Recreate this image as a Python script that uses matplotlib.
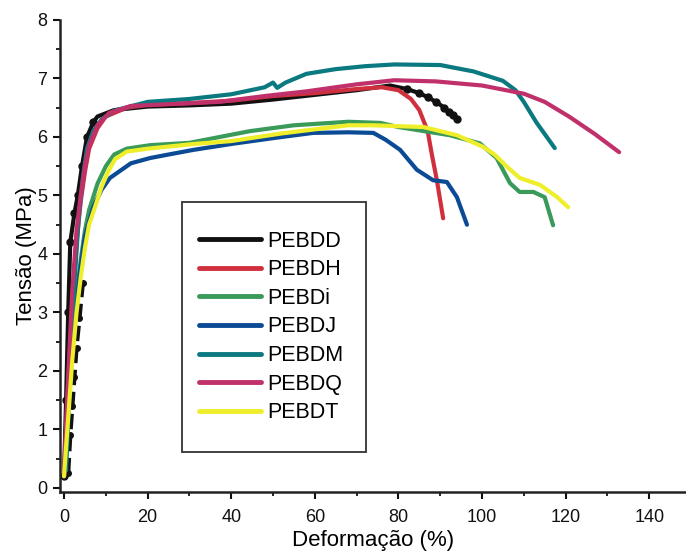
import numpy as np
import matplotlib
matplotlib.use('Agg')
from matplotlib import pyplot as plt
from matplotlib.patches import Rectangle
from matplotlib.ticker import MultipleLocator

plt.rcParams['font.family'] = ['Liberation Sans', 'DejaVu Sans']

# curves (strain %, stress MPa)
dd_x = [0, 0.5, 1, 1.5, 2.5, 3.3, 4.3, 5.5, 7, 8, 12, 20, 30, 40, 50, 60, 70, 78, 82, 85, 87, 89, 91, 92, 93, 94]
dd_y = [0.2, 1.5, 3.0, 4.2, 4.7, 5.0, 5.5, 6.0, 6.25, 6.35, 6.46, 6.52, 6.54, 6.57, 6.64, 6.72, 6.8, 6.88, 6.82, 6.75, 6.68, 6.6, 6.5, 6.42, 6.38, 6.3]
# second (dotted) black branch near the origin
dd2_x = [1, 1.5, 2, 2.5, 3, 3.7, 4.5]
dd2_y = [0.25, 0.9, 1.4, 1.9, 2.4, 2.9, 3.5]

dh_x = [0, 1, 2, 3, 4, 5, 6, 8, 10, 15, 20, 30, 40, 50, 60, 70, 76, 80, 83, 85, 87, 88, 89.2, 90.7]
dh_y = [0.2, 1.8, 3.2, 4.2, 4.9, 5.4, 5.8, 6.15, 6.35, 6.5, 6.55, 6.58, 6.62, 6.7, 6.75, 6.82, 6.85, 6.8, 6.65, 6.46, 6.1, 5.7, 5.26, 4.61]

di_x = [0, 1, 2, 3, 4, 5, 6, 8, 10, 12, 15, 20.6, 30, 44.5, 55, 68, 75.7, 80, 87, 92.3, 99.5, 103.5, 106.7, 109, 112.3, 115, 117]
di_y = [0.2, 1.4, 2.5, 3.3, 3.9, 4.4, 4.75, 5.2, 5.5, 5.7, 5.8, 5.86, 5.9, 6.1, 6.2, 6.26, 6.24, 6.17, 6.09, 6.03, 5.89, 5.64, 5.21, 5.06, 5.06, 4.97, 4.49]

dj_x = [0, 1, 2, 3, 4, 5, 7, 9, 11, 13, 16, 20.6, 25, 31, 40, 50, 59.6, 68, 74, 77, 80.4, 84.4, 88.3, 91.6, 94, 96.4]
dj_y = [0.2, 1.3, 2.4, 3.2, 3.8, 4.3, 4.8, 5.1, 5.3, 5.4, 5.55, 5.64, 5.7, 5.78, 5.88, 5.98, 6.07, 6.08, 6.07, 5.95, 5.78, 5.44, 5.26, 5.23, 4.97, 4.5]

dm_x = [0.5, 1.5, 2.5, 3.5, 4.5, 5.5, 7, 9, 12, 20, 30, 40, 48, 50, 51, 53, 58, 65, 72, 79, 90, 98, 105, 108, 110, 113, 117.4]
dm_y = [0.3, 2.0, 3.5, 4.6, 5.3, 5.8, 6.1, 6.3, 6.45, 6.6, 6.65, 6.73, 6.85, 6.93, 6.84, 6.93, 7.08, 7.16, 7.21, 7.24, 7.23, 7.12, 6.96, 6.8, 6.6, 6.25, 5.81]

dq_x = [0, 1, 2, 3, 4, 5, 6, 8, 10.8, 16, 25, 37, 48, 58, 70, 79, 89, 100, 110, 115, 120.8, 127, 132.8]
dq_y = [0.2, 1.9, 3.4, 4.4, 5.0, 5.5, 5.85, 6.2, 6.41, 6.53, 6.56, 6.6, 6.7, 6.78, 6.9, 6.97, 6.95, 6.88, 6.74, 6.6, 6.35, 6.05, 5.74]

dt_x = [0, 1, 2, 3, 4, 5, 6, 7.4, 9, 10.5, 12.2, 15, 20, 31, 40, 52, 60, 68, 74, 86, 94, 100.3, 103, 106, 109, 113.9, 118, 120.6]
dt_y = [0.2, 1.2, 2.2, 3.0, 3.6, 4.1, 4.5, 4.8, 5.15, 5.4, 5.62, 5.75, 5.8, 5.88, 5.93, 6.06, 6.13, 6.2, 6.2, 6.17, 6.03, 5.83, 5.7, 5.49, 5.3, 5.18, 4.97, 4.8]

series = [
    ('PEBDD', dd_x, dd_y, '#111111'),
    ('PEBDH', dh_x, dh_y, '#d0303e'),
    ('PEBDi', di_x, di_y, '#3a9a5a'),
    ('PEBDJ', dj_x, dj_y, '#0b4a94'),
    ('PEBDM', dm_x, dm_y, '#0a7a80'),
    ('PEBDQ', dq_x, dq_y, '#c0306a'),
    ('PEBDT', dt_x, dt_y, '#eeee2a'),
]

fig = plt.figure(figsize=(6.86, 5.53), dpi=100)
ax = fig.add_axes([60/686, 61/553, 626/686, 472/553])

lines = []
for name, xs, ys, c in series:
    l, = ax.plot(xs, ys, '-', color=c, lw=3, label=name,
                 solid_capstyle='round', solid_joinstyle='round')
    lines.append(l)
    if name == 'PEBDD':
        # noisy look of the black record
        xs_a = np.array(xs)
        ys_a = np.array(ys)
        m = (xs_a < 8) | (xs_a > 81)
        ax.plot(xs_a[m], ys_a[m], 'o', color=c, ms=5)
        ax.plot(dd2_x, dd2_y, '--', color=c, lw=3)
        ax.plot(dd2_x, dd2_y, 'o', color=c, ms=4)

ax.set_xlim(-0.96, 148.8)
ax.set_ylim(-0.07, 8.0)
ax.xaxis.set_major_locator(MultipleLocator(20))
ax.xaxis.set_minor_locator(MultipleLocator(10))
ax.yaxis.set_major_locator(MultipleLocator(1))
ax.yaxis.set_minor_locator(MultipleLocator(0.5))
ax.tick_params(which='major', direction='out', length=5, width=1.5, labelsize=13, colors='#111111')
ax.tick_params(axis='x', which='major', pad=7)
ax.tick_params(axis='y', which='major', pad=4)
ax.tick_params(which='minor', direction='out', length=3, width=1.2)
for s in ['top', 'right']:
    ax.spines[s].set_visible(False)
for s in ['left', 'bottom']:
    ax.spines[s].set_linewidth(1.8)
    ax.spines[s].set_color('#222222')

ax.set_xlabel('Deformação (%)', fontsize=16, labelpad=3)
ax.set_ylabel('Tensão (MPa)', fontsize=16, labelpad=0)

leg = fig.legend(handles=lines, loc='center left', bbox_to_anchor=(199/686, 1 - 327/553),
                 frameon=False, fontsize=15.5, handlelength=2.9, handletextpad=0.28,
                 labelspacing=0.35, borderpad=0, borderaxespad=0)
for lh in leg.get_lines():
    lh.set_linewidth(3.5)

fig.patches.append(Rectangle((182/686, 1 - 452/553), (366 - 182)/686, (452 - 202)/553,
                             transform=fig.transFigure, fill=False, lw=1.3, ec='#333333'))

fig.savefig('out.png', dpi=100)
